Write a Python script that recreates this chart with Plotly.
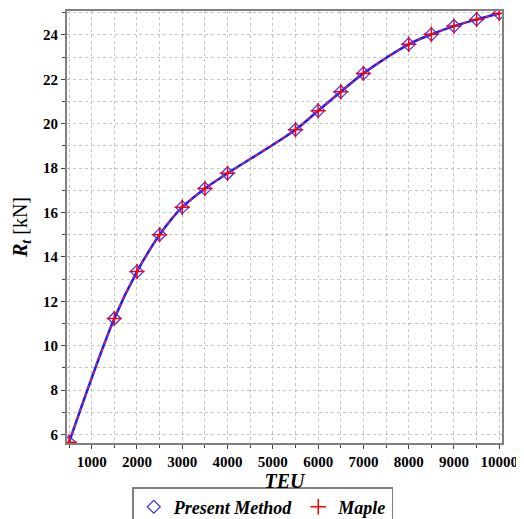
import plotly.graph_objects as go

teu = [500, 1500, 2000, 2500, 3000, 3500, 4000, 5500, 6000, 6500, 7000, 8000, 8500, 9000, 9500, 10000]
present = [5.65, 11.23, 13.34, 15.0, 16.24, 17.08, 17.77, 19.73, 20.59, 21.44, 22.27, 23.58, 24.03, 24.4, 24.7, 24.97]
maple = [5.65, 11.23, 13.34, 15.0, 16.24, 17.08, 17.77, 19.73, 20.59, 21.44, 22.27, 23.58, 24.03, 24.4, 24.7, 24.97]
x_ticks = [1000, 2000, 3000, 4000, 5000, 6000, 7000, 8000, 9000, 10000]
x_labels = ["1000", "2000", "3000", "4000", "5000", "6000", "7000", "8000", "9000", "10000"]
y_ticks = [6, 8, 10, 12, 14, 16, 18, 20, 22, 24]
y_labels = ["6", "8", "10", "12", "14", "16", "18", "20", "22", "24"]

FONT = "Liberation Serif"
GRID = "#c4c4c4"

fig = go.Figure()
# lines (no legend)
fig.add_trace(go.Scatter(
    x=teu, y=present, mode="lines", showlegend=False, hoverinfo="skip",
    line=dict(color="#1a1aff", width=2.5, shape="spline"),
))
fig.add_trace(go.Scatter(
    x=teu, y=maple, mode="lines", showlegend=False, hoverinfo="skip",
    line=dict(color="#ff2020", width=1.2, dash="4px,4px", shape="spline"),
))
# markers (with legend)
fig.add_trace(go.Scatter(
    x=teu, y=present, name="<b><i>Present Method</i></b>", mode="markers",
    marker=dict(symbol="diamond-open", size=10, color="#3333ff", line=dict(width=1.2)),
))
fig.add_trace(go.Scatter(
    x=teu, y=maple, name="<b><i>Maple</i></b>", mode="markers",
    marker=dict(symbol="cross-thin-open", size=11, color="#ff0000", line=dict(width=1.5, color="#ff0000")),
))

axis_common = dict(
    showline=True, linecolor="#808080", linewidth=2, mirror=True,
    ticks="outside", ticklen=4, tickcolor="#444", tickwidth=1,
    showgrid=True, gridcolor=GRID, griddash="dot", gridwidth=1,
    zeroline=False, automargin=False,
    tickfont=dict(family=FONT, size=15, color="black", weight="bold"),
)

fig.update_xaxes(
    range=[455, 10060], tickvals=x_ticks, ticktext=x_labels,
    minor=dict(dtick=500, tick0=0, ticks="outside", ticklen=3, tickcolor="#444",
               showgrid=True, gridcolor=GRID, griddash="dot"),
    title=dict(text="<b><i>TEU</i></b>", font=dict(family=FONT, size=20, color="black"), standoff=4),
    **axis_common,
)
fig.update_yaxes(
    range=[5.62, 25.08], tickvals=y_ticks, ticktext=y_labels,
    minor=dict(dtick=1, tick0=0, ticks="outside", ticklen=3, tickcolor="#444",
               showgrid=True, gridcolor=GRID, griddash="dot"),
    title=dict(text="<b><i>R</i></b><sub><b><i>t</i></b></sub> [kN]",
               font=dict(family=FONT, size=20, color="black"), standoff=10),
    **axis_common,
)

fig.update_layout(
    width=516, height=511,
    margin=dict(l=59, r=22, t=3, b=76, autoexpand=False),
    plot_bgcolor="white", paper_bgcolor="white",
    showlegend=True,
    legend=dict(
        orientation="h", x=0.45, xanchor="center", y=-0.102, yanchor="top",
        bordercolor="#808080", borderwidth=1.5,
        font=dict(family=FONT, size=18, color="black"),
        itemwidth=30, tracegroupgap=0,
    ),
)

fig.write_html("out.html")
